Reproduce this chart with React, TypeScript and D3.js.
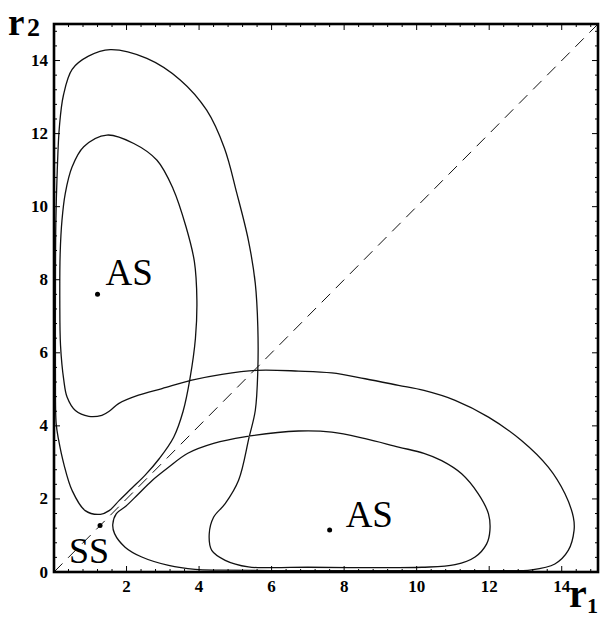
import React from 'react';
import * as d3 from 'd3';

const W = 611;
const H = 620;

// Axis range (both axes) and tick values
const axisDomain: [number, number] = [0, 15];
const majorTicks = [0, 2, 4, 6, 8, 10, 12, 14];
const minorTicks = [
  0.4, 0.8, 1.2, 1.6, 2.4, 2.8, 3.2, 3.6, 4.4, 4.8, 5.2, 5.6, 6.4, 6.8, 7.2, 7.6,
  8.4, 8.8, 9.2, 9.6, 10.4, 10.8, 11.2, 11.6, 12.4, 12.8, 13.2, 13.6, 14.4, 14.8,
];

// Boundary curve in the (r1, r2) plane, one closed loop split into four arcs.
// Outer upper lobe: peak, down the r2 axis, to the lower turning point
const arcOuterUpper: [number, number][] = [
  [1.55, 14.3], [0.95, 14.12], [0.5, 13.76], [0.26, 13.05], [0.15, 12.2], [0.09, 11.0],
  [0.05, 9.5], [0.04, 7.5], [0.04, 5.5], [0.06, 4.06], [0.13, 3.6], [0.27, 2.96],
  [0.5, 2.23], [0.86, 1.68], [1.28, 1.58],
];
// Branch running up along the diagonal into the inner upper lobe
const arcDiagonalUpper: [number, number][] = [
  [1.52, 1.68], [1.8, 1.96], [2.15, 2.3], [2.52, 2.66], [2.9, 3.1], [3.3, 3.69],
  [3.56, 4.4], [3.75, 5.3], [3.9, 6.4], [3.94, 7.44], [3.87, 8.5], [3.64, 9.45],
  [3.28, 10.5], [2.84, 11.27], [2.2, 11.73], [1.46, 11.96],
];
// Inner upper lobe left side, the notch, then across to the outer lower lobe
const arcInnerUpper: [number, number][] = [
  [0.82, 11.64], [0.5, 11.09], [0.31, 10.36], [0.22, 9.63], [0.17, 8.72], [0.16, 7.44],
  [0.18, 6.2], [0.27, 5.25], [0.36, 4.79], [0.59, 4.42], [0.96, 4.26], [1.32, 4.29],
  [1.55, 4.42], [1.78, 4.61], [2.33, 4.84], [2.98, 5.02], [3.8, 5.25], [4.63, 5.41],
  [5.59, 5.52], [6.74, 5.5], [7.66, 5.45], [8.58, 5.29], [9.5, 5.11], [10.2, 4.97],
  [11.06, 4.7], [11.98, 4.24], [12.89, 3.6], [13.63, 2.87], [14.09, 2.14], [14.32, 1.5],
  [14.34, 1.14], [14.18, 0.59], [13.81, 0.22], [13.17, 0.06], [12.0, 0.04], [10.0, 0.04],
  [8.0, 0.04], [6.0, 0.04], [4.6, 0.05], [3.89, 0.07], [3.16, 0.18], [2.42, 0.41],
  [1.96, 0.68], [1.67, 1.05], [1.62, 1.3],
];
// Branch below the diagonal into the inner lower lobe, its hook, and back up to the peak
const arcDiagonalLower: [number, number][] = [
  [1.72, 1.6], [1.98, 1.8], [2.32, 2.13], [2.7, 2.5], [3.15, 2.86], [3.69, 3.25],
  [4.4, 3.52], [5.25, 3.7], [6.74, 3.86], [7.66, 3.83], [8.58, 3.65], [9.5, 3.42],
  [10.2, 3.25], [10.69, 3.05], [11.24, 2.69], [11.7, 2.14], [11.98, 1.59], [12.02, 1.14],
  [11.93, 0.77], [11.61, 0.41], [11.06, 0.2], [10.14, 0.13], [8.5, 0.12], [7.0, 0.13],
  [6.0, 0.12], [5.36, 0.14], [4.72, 0.32], [4.35, 0.59], [4.28, 1.04], [4.4, 1.5],
  [4.72, 1.87], [5.09, 2.51], [5.38, 3.69], [5.55, 4.42], [5.62, 5.52], [5.62, 6.71],
  [5.55, 7.9], [5.36, 9.08], [5.04, 10.37], [4.7, 11.6], [4.21, 12.64], [3.48, 13.47],
  [2.56, 14.06],
];

// Marked states
const stablePoints = [
  { r1: 1.2, r2: 7.6, label: 'AS', dx: 8, dy: -9 },
  { r1: 7.6, r2: 1.15, label: 'AS', dx: 16, dy: -3 },
];
const saddlePoint = { r1: 1.27, r2: 1.27, label: 'SS', dx: -31, dy: 37 };

const left = 54;
const right = 598;
const top = 24;
const bottom = 572;

export default function App() {
  const x = d3.scaleLinear().domain(axisDomain).range([left, right]);
  const y = d3.scaleLinear().domain(axisDomain).range([bottom, top]);

  const loop = [...arcOuterUpper, ...arcDiagonalUpper, ...arcInnerUpper, ...arcDiagonalLower];
  const line = d3
    .line<[number, number]>()
    .x((d) => x(d[0]))
    .y((d) => y(d[1]))
    .curve(d3.curveCatmullRomClosed.alpha(0.5));
  const loopPath = line(loop) || '';

  const serif = '"Liberation Serif", "Times New Roman", serif';
  const major = 6;
  const minor = 3;

  return (
    <svg
      width={W}
      height={H}
      viewBox={`0 0 ${W} ${H}`}
      style={{ position: 'absolute', left: 0, top: 0, background: '#fff' }}
    >
      <rect x={0} y={0} width={W} height={H} fill="#fff" />

      {/* diagonal r1 = r2 */}
      <line
        x1={x(0)}
        y1={y(0)}
        x2={x(15)}
        y2={y(15)}
        stroke="#111"
        strokeWidth={1}
        strokeDasharray="12 8"
      />

      {/* boundary curve */}
      <path d={loopPath} fill="none" stroke="#111" strokeWidth={1.3} />

      {/* marked states */}
      {stablePoints.map((p, i) => (
        <g key={i}>
          <circle cx={x(p.r1)} cy={y(p.r2)} r={2.5} fill="#000" />
          <text
            x={x(p.r1) + p.dx}
            y={y(p.r2) + p.dy}
            fontFamily={serif}
            fontSize={37}
            fill="#000"
          >
            {p.label}
          </text>
        </g>
      ))}
      <circle cx={x(saddlePoint.r1)} cy={y(saddlePoint.r2)} r={2.5} fill="#000" />
      <text
        x={x(saddlePoint.r1) + saddlePoint.dx}
        y={y(saddlePoint.r2) + saddlePoint.dy}
        fontFamily={serif}
        fontSize={36}
        fill="#000"
      >
        {saddlePoint.label}
      </text>

      {/* frame */}
      <rect
        x={left}
        y={top}
        width={right - left}
        height={bottom - top}
        fill="none"
        stroke="#000"
        strokeWidth={2.6}
      />

      {/* ticks, pointing inward on all four sides */}
      {majorTicks.concat(minorTicks).map((t, i) => {
        const len = majorTicks.includes(t) ? major : minor;
        return (
          <g key={`t${i}`} stroke="#000" strokeWidth={1}>
            <line x1={x(t)} y1={bottom} x2={x(t)} y2={bottom - len} />
            <line x1={x(t)} y1={top} x2={x(t)} y2={top + len} />
            <line x1={left} y1={y(t)} x2={left + len} y2={y(t)} />
            <line x1={right} y1={y(t)} x2={right - len} y2={y(t)} />
          </g>
        );
      })}

      {/* tick labels */}
      {majorTicks.map((t) => (
        <text
          key={`yl${t}`}
          x={left - 6}
          y={y(t)}
          textAnchor="end"
          dominantBaseline="central"
          fontFamily={serif}
          fontWeight="bold"
          fontSize={17}
        >
          {t}
        </text>
      ))}
      {majorTicks
        .filter((t) => t !== 0)
        .map((t) => (
          <text
            key={`xl${t}`}
            x={x(t)}
            y={bottom + 20}
            textAnchor="middle"
            fontFamily={serif}
            fontWeight="bold"
            fontSize={17}
          >
            {t}
          </text>
        ))}

      {/* axis titles */}
      <text x={8} y={35} fontFamily={serif} fontWeight="bold" fontSize={37}>
        r
      </text>
      <text x={27} y={36} fontFamily={serif} fontWeight="bold" fontSize={26}>
        2
      </text>
      <text x={569} y={607} fontFamily={serif} fontWeight="bold" fontSize={40}>
        r
      </text>
      <text x={587} y={613} fontFamily={serif} fontWeight="bold" fontSize={22}>
        1
      </text>
    </svg>
  );
}
